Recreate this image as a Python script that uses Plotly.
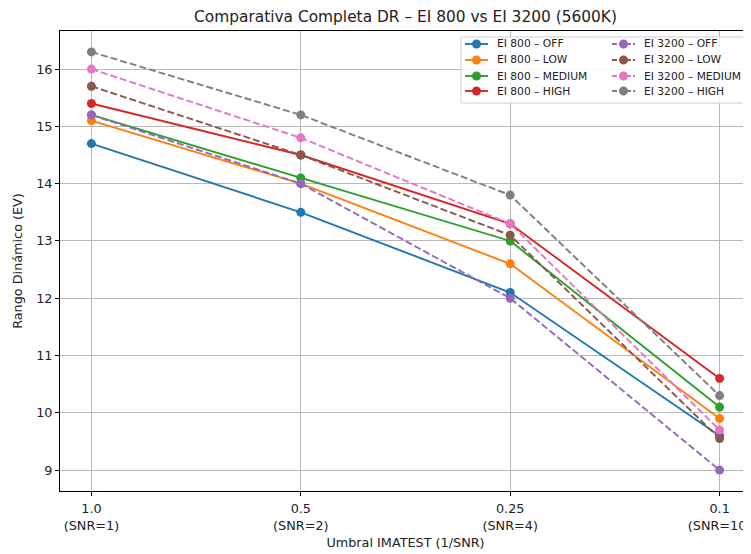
import plotly.graph_objects as go

x_labels = ["1.0<br>(SNR=1)", "0.5<br>(SNR=2)", "0.25<br>(SNR=4)", "0.1<br>(SNR=10)"]
x_idx = [0, 1, 2, 3]

ei800_off = [14.7, 13.5, 12.1, 9.6]
ei800_low = [15.1, 14.0, 12.6, 9.9]
ei800_medium = [15.2, 14.1, 13.0, 10.1]
ei800_high = [15.4, 14.5, 13.3, 10.6]
ei3200_off = [15.2, 14.0, 12.0, 9.0]
ei3200_low = [15.7, 14.5, 13.1, 9.55]
ei3200_medium = [16.0, 14.8, 13.3, 9.7]
ei3200_high = [16.3, 15.2, 13.8, 10.3]

series = [
    ("EI 800 – OFF", ei800_off, "#1f77b4", "solid"),
    ("EI 800 – LOW", ei800_low, "#ff7f0e", "solid"),
    ("EI 800 – MEDIUM", ei800_medium, "#2ca02c", "solid"),
    ("EI 800 – HIGH", ei800_high, "#d62728", "solid"),
    ("EI 3200 – OFF", ei3200_off, "#9467bd", "7px,3px"),
    ("EI 3200 – LOW", ei3200_low, "#8c564b", "7px,3px"),
    ("EI 3200 – MEDIUM", ei3200_medium, "#e377c2", "7px,3px"),
    ("EI 3200 – HIGH", ei3200_high, "#7f7f7f", "7px,3px"),
]

# page body has an 8px margin; figure coordinates = window coordinates - OFF
OFF = 8
W, H = 751, 554 - OFF
L, T = 60 - OFF, 31 - OFF
R = W - (751 - OFF)
B = H - (491 - OFF)
PW, PH = W - L - R, H - T - B

def px_x(wx):
    return (wx - OFF - L) / PW

def px_y(wy):
    return (H - B - (wy - OFF)) / PH

fig = go.Figure()
for name, vals, color, dash in series:
    fig.add_trace(go.Scatter(
        x=x_idx, y=vals, name=name, mode="lines+markers",
        line=dict(color=color, width=1.9, dash=dash),
        marker=dict(color=color, size=9),
        showlegend=False,
    ))

font = "DejaVu Sans, sans-serif"

# legend (drawn as decoration: box, line samples, markers, labels)
shapes = [dict(type="rect", xref="paper", yref="paper",
               x0=px_x(461), x1=px_x(745), y0=px_y(103), y1=px_y(37),
               layer="above", fillcolor="rgba(255,255,255,0.85)",
               line=dict(color="#d0d0d0", width=1))]
annotations = []
row_y = [44, 60, 76, 91]
col_line = [(465, 488), (612, 635)]
col_text = [495, 642]
for i, (name, vals, color, dash) in enumerate(series):
    c = i // 4
    r = i % 4
    y = row_y[r]
    x0, x1 = col_line[c]
    shapes.append(dict(type="line", xref="paper", yref="paper",
                       x0=px_x(x0), x1=px_x(x1), y0=px_y(y), y1=px_y(y),
                       layer="above", line=dict(color=color, width=1.9,
                                                 dash="solid" if dash == "solid" else "5px,2px")))
    mx = (x0 + x1) / 2
    rad = 4.5
    shapes.append(dict(type="circle", xref="paper", yref="paper",
                       x0=px_x(mx - rad), x1=px_x(mx + rad), y0=px_y(y + rad), y1=px_y(y - rad),
                       layer="above", fillcolor=color, line=dict(width=0)))
    annotations.append(dict(text=name, xref="paper", yref="paper",
                            x=px_x(col_text[c]), y=px_y(y), xanchor="left", yanchor="middle",
                            showarrow=False, font=dict(family=font, size=10.7, color="#222")))

fig.update_layout(
    width=W, height=H,
    margin=dict(l=L, r=R, t=T, b=B, autoexpand=False),
    paper_bgcolor="white", plot_bgcolor="white",
    title=dict(text="Comparativa Completa DR – EI 800 vs EI 3200 (5600K)",
               x=(L + W - R) / 2 / W, xanchor="center", y=1 - (17 - OFF) / H, yanchor="middle",
               font=dict(family=font, size=15.4, color="#222")),
    font=dict(family=font, size=12.8, color="#222"),
    showlegend=False,
    shapes=shapes,
    annotations=annotations,
)
fig.update_xaxes(
    range=[-0.15, 3.15], tickvals=x_idx, ticktext=x_labels,
    showgrid=True, gridcolor="#b8b8b8", gridwidth=1,
    showline=True, linecolor="black", linewidth=1, mirror=True,
    ticks="outside", ticklen=4, tickcolor="black", ticklabelstandoff=2,
    ticklabeloverflow="allow",
    title=dict(text="Umbral IMATEST (1/SNR)", font=dict(family=font, size=12.8), standoff=6),
    zeroline=False, automargin=False,
)
fig.update_yaxes(
    range=[8.635, 16.665], tickvals=[9, 10, 11, 12, 13, 14, 15, 16],
    showgrid=True, gridcolor="#b8b8b8", gridwidth=1,
    showline=True, linecolor="black", linewidth=1, mirror=True,
    ticks="outside", ticklen=4, tickcolor="black",
    title=dict(text="Rango Dinámico (EV)", font=dict(family=font, size=12.8), standoff=10),
    zeroline=False, automargin=False,
)

fig.write_html("out.html")
